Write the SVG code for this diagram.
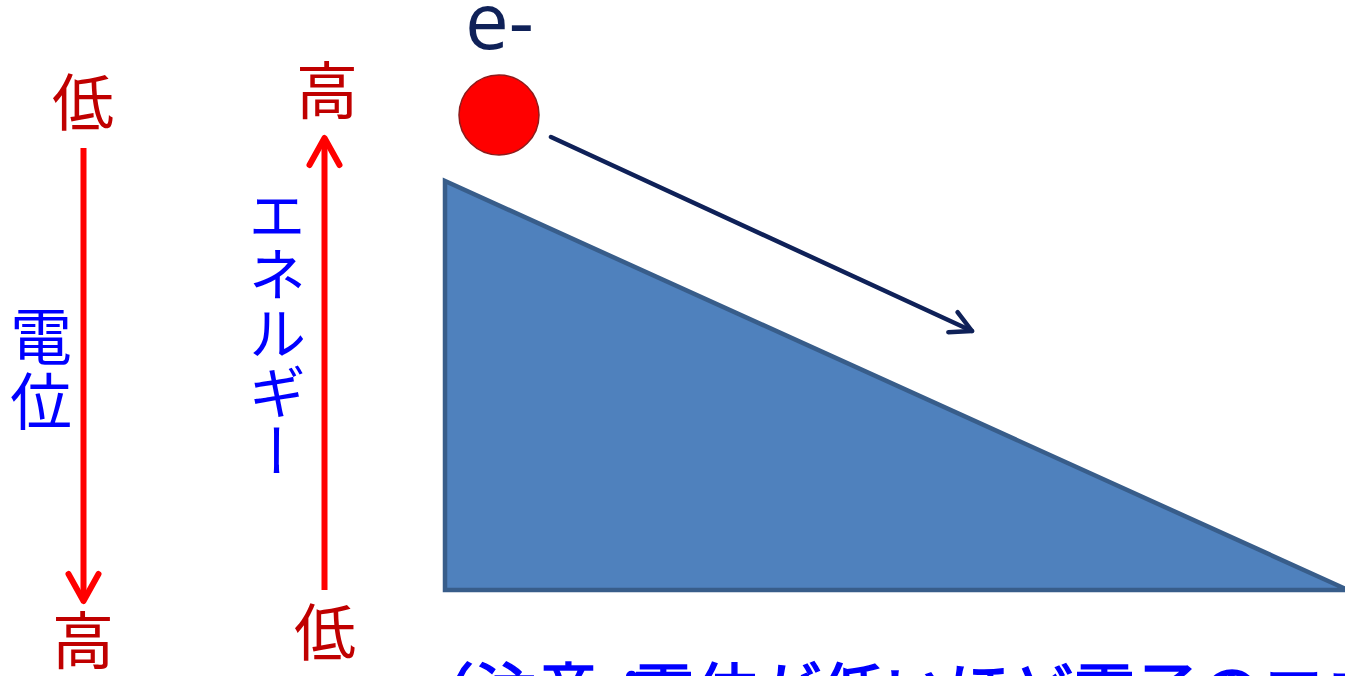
<svg xmlns="http://www.w3.org/2000/svg" width="1345" height="676" viewBox="0 0 1345 676">
<style>
.cjk{font-family:"Noto Sans CJK JP","Noto Sans CJK SC",sans-serif;}
.lbl-red{fill:#C00000;font-size:62px;text-anchor:middle;}
.lbl-blue{fill:#0000FF;}
.red-arrow{stroke:#FF0000;stroke-width:6;fill:none;}
.navy-arrow{stroke:#0F2158;stroke-width:4.5;fill:none;stroke-linecap:round;}
</style>
<defs>
<marker id="redHead" markerUnits="userSpaceOnUse" markerWidth="40" markerHeight="40" refX="0" refY="0" orient="auto" overflow="visible">
<path d="M -27,-15 L 0,0 L -27,15" fill="none" stroke="#FF0000" stroke-width="6" stroke-linecap="round" stroke-linejoin="round"/>
</marker>
<marker id="navyHead" markerUnits="userSpaceOnUse" markerWidth="40" markerHeight="40" refX="0" refY="0" orient="auto" overflow="visible">
<path d="M -21,-11 L 0,0 L -21,11" fill="none" stroke="#0F2158" stroke-width="4.5" stroke-linecap="round" stroke-linejoin="round"/>
</marker>
</defs>
<rect width="1345" height="676" fill="#FFFFFF"/>

<g id="slope">
<polygon points="445,181 445,590 1348,590" fill="#4F81BD" stroke="#385D8A" stroke-width="4.5"/>
</g>

<g id="electron">
<circle cx="499" cy="115" r="40" fill="#FF0000" stroke="#8E1B1B" stroke-width="1.5"/>
<text x="465" y="49" font-family="'Open Sans','Noto Sans',sans-serif" font-size="78" fill="#0F2158">e-</text>
</g>

<g id="connectors">
<line class="red-arrow" x1="83.5" y1="148" x2="83.5" y2="601" marker-end="url(#redHead)"/>
<line class="red-arrow" x1="324.5" y1="590" x2="324.5" y2="138" marker-end="url(#redHead)"/>
<line class="navy-arrow" x1="551" y1="137" x2="972" y2="331" marker-end="url(#navyHead)"/>
</g>

<g id="potential-axis">
<text class="cjk lbl-red" x="83" y="126">低</text>
<text class="cjk lbl-red" x="83" y="664">高</text>
<text class="cjk lbl-blue" x="41" y="360" font-size="62" text-anchor="middle">電</text>
<text class="cjk lbl-blue" x="41" y="425" font-size="62" text-anchor="middle">位</text>
</g>

<g id="energy-axis">
<text class="cjk lbl-red" x="327" y="114">高</text>
<text class="cjk lbl-red" x="325" y="656">低</text>
<text class="cjk lbl-blue" x="277" y="186" font-size="58" letter-spacing="1" writing-mode="vertical-rl">エネルギー</text>
</g>

<g id="note">
<text class="cjk lbl-blue" font-size="63" stroke="#0000FF" stroke-width="1.5" y="715" x="411 474 537 600 632 695 758 821 884 947 1010 1073 1136 1199 1262 1325">（注意：電位が低いほど電子のエネ</text>
</g>
</svg>
